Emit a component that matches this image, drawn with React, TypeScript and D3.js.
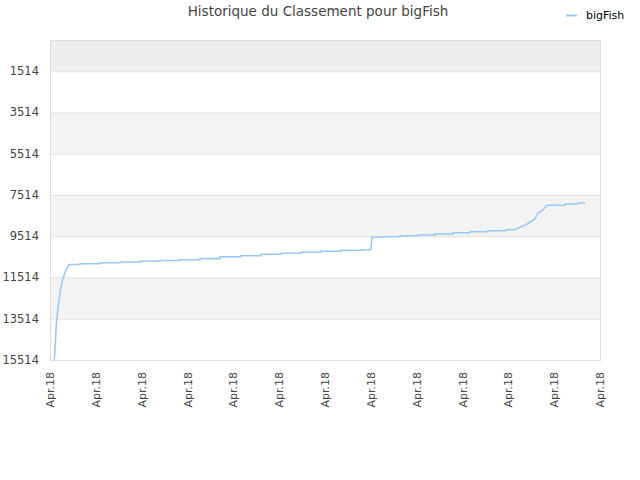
import React from 'react';
import * as d3 from 'd3';

// x is in tick units (0 = first "Apr.18" tick), y is the ranking; plateaus have a start and an end vertex
const rankX = [
  0.094, 0.109, 0.131, 0.153, 0.196, 0.24, 0.284, 0.349, 0.415,
  0.655, 0.655, 1.091, 1.091, 1.527, 1.527, 1.964, 1.964, 2.4, 2.4, 2.836, 2.836, 3.273, 3.273, 3.709,
  3.709, 4.167, 4.167, 4.604, 4.604, 5.04, 5.04, 5.476, 5.476, 5.913, 5.913, 6.349, 6.349, 6.785, 6.785, 7.004,
  7.025, 7.244, 7.244, 7.636, 7.636, 8.029, 8.029, 8.4, 8.4, 8.793, 8.793, 9.164, 9.164, 9.556, 9.556, 9.949,
  9.949, 10.145, 10.255, 10.407, 10.582, 10.647, 10.756, 10.844, 11.236, 11.236, 11.52, 11.52, 11.673,
];
const rankY = [
  15500, 15029, 14059, 13429, 12605, 11975, 11538, 11150, 10884,
  10884, 10850, 10850, 10801, 10801, 10763, 10763, 10729, 10729, 10690, 10690, 10651, 10651, 10600, 10600,
  10506, 10506, 10457, 10457, 10389, 10389, 10341, 10341, 10292, 10292, 10244, 10244, 10195, 10195, 10166, 10166,
  9565, 9565, 9536, 9536, 9488, 9488, 9454, 9454, 9405, 9405, 9342, 9342, 9294, 9294, 9245, 9245,
  9197, 9197, 9080, 8920, 8678, 8387, 8242, 8014, 8014, 7951, 7951, 7902, 7902,
];

const yTicks = [1514, 3514, 5514, 7514, 9514, 11514, 13514, 15514];
const xTickLabels = [
  'Apr.18', 'Apr.18', 'Apr.18', 'Apr.18', 'Apr.18', 'Apr.18', 'Apr.18',
  'Apr.18', 'Apr.18', 'Apr.18', 'Apr.18', 'Apr.18', 'Apr.18',
];

const seriesName = 'bigFish';
const title = 'Historique du Classement pour bigFish';

const W = 640;
const H = 480;
const left = 50;
const right = 600;
const top = 40;
const bottom = 360;
const lineColor = '#9ac9f4';
const font = 'DejaVu Sans, Verdana, sans-serif';

const App: React.FC = () => {
  const x = d3.scaleLinear().domain([0, xTickLabels.length - 1]).range([left, right]);
  const y = d3.scaleLinear().domain([0, 15514]).range([top, bottom]);

  const points: [number, number][] = rankX.map((v, i) => [v, rankY[i]]);
  const path = d3
    .line<[number, number]>()
    .x(d => x(d[0]))
    .y(d => y(d[1]))(points);

  // bands between ticks, alternating
  const bandEdges = [0, ...yTicks];
  const bands = bandEdges.slice(0, -1).map((v, i) => ({ y0: v, y1: bandEdges[i + 1], i }));

  return (
    <svg width={W} height={H} style={{ position: 'absolute', left: 0, top: 0 }}>
      <rect x={0} y={0} width={W} height={H} fill="#fff" />
      {bands.map(b => (
        <rect
          key={b.i}
          x={left}
          y={y(b.y0)}
          width={right - left}
          height={y(b.y1) - y(b.y0)}
          fill={b.i === 0 ? '#eeeeee' : b.i % 2 === 0 ? '#f3f3f3' : '#ffffff'}
        />
      ))}
      {yTicks.map(t => (
        <line key={t} x1={left} x2={right} y1={y(t) + 0.5} y2={y(t) + 0.5} stroke="#e0e0e0" />
      ))}
      <rect x={left + 0.5} y={top + 0.5} width={right - left} height={bottom - top} fill="none" stroke="#dddddd" />
      <path d={path || ''} fill="none" stroke={lineColor} strokeWidth={1.6} />
      {yTicks.map(t => (
        <text key={t} x={39} y={y(t) + 4} textAnchor="end" fontSize={11.5} fill="#444" fontFamily={font}>
          {t}
        </text>
      ))}
      {xTickLabels.map((l, i) => (
        <text
          key={i}
          transform={`translate(${x(i) + 4},${372}) rotate(-90)`}
          textAnchor="end"
          fontSize={11}
          fill="#444"
          fontFamily={font}
        >
          {l}
        </text>
      ))}
      <text x={318} y={16} textAnchor="middle" fontSize={13.5} fill="#444" fontFamily={font}>
        {title}
      </text>
      <line x1={566} x2={577} y1={15.5} y2={15.5} stroke={lineColor} strokeWidth={2} />
      <text x={586} y={19} fontSize={11} fill="#000" fontFamily={font}>
        {seriesName}
      </text>
    </svg>
  );
};

export default App;
